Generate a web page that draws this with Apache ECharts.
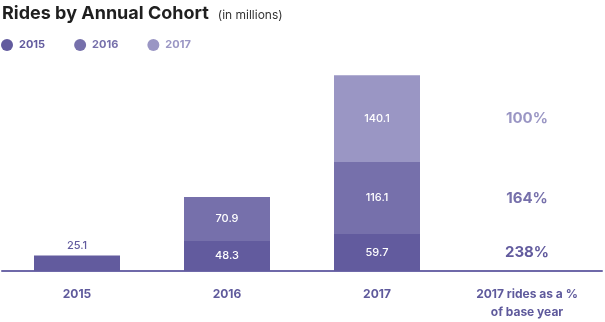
<!DOCTYPE html>
<html>
<head>
<meta charset="utf-8">
<script src="https://cdn.jsdelivr.net/npm/echarts@6/dist/echarts.min.js"></script>
<style>html,body{margin:0;padding:0;background:#fff}#c{width:605px;height:322px}</style>
</head>
<body>
<div id="c"></div>
<script>
var categories = ['2015', '2016', '2017', '2017 rides as a %\nof base year'];
var seriesNames = ['2015', '2016', '2017'];
var cohort2015 = [25.1, 48.3, 59.7];
var cohort2016 = [null, 70.9, 116.1];
var cohort2017 = [null, null, 140.1];
var pctOfBase = ['238%', '164%', '100%'];

var colors = ['#625b9e', '#7670ab', '#9a96c4'];
var cohorts = [cohort2015, cohort2016, cohort2017];
var FONT = 'Inter';

var series = cohorts.map(function (vals, i) {
  var data = vals.map(function (v, j) {
    if (v == null) return null;
    var d = { value: v };
    if (i === 0 && j === 0) {
      d.label = { position: 'top', color: colors[0], distance: 4 };
    }
    return d;
  });
  // 4th category: invisible copy of the 2017 stack, labeled with % of base year
  data.push({
    value: vals[2],
    itemStyle: { color: 'rgba(0,0,0,0)' },
    label: {
      formatter: pctOfBase[i],
      color: colors[i],
      fontSize: 15,
      fontWeight: 'bold'
    }
  });
  return {
    name: seriesNames[i],
    type: 'bar',
    stack: 'total',
    barWidth: 86,
    data: data,
    itemStyle: { color: colors[i] },
    label: {
      show: true,
      position: 'inside',
      color: '#ffffff',
      fontSize: 11,
      fontFamily: FONT,
      fontWeight: 500
    }
  };
});

var chart = echarts.init(document.getElementById('c'), null, { renderer: 'canvas' });
chart.setOption({
  animation: false,
  title: {
    left: 0,
    top: 3,
    padding: [2, 2, 2, 2],
    text: '{a|Rides by Annual Cohort} {b|(in millions)}',
    textStyle: {
      rich: {
        a: { fontSize: 18, fontWeight: 'bold', color: '#1f1f1f', fontFamily: FONT },
        b: { fontSize: 12, fontWeight: 'normal', color: '#333', fontFamily: FONT, padding: [3, 0, 0, 4] }
      }
    }
  },
  legend: {
    left: 1,
    top: 39,
    padding: 0,
    icon: 'circle',
    itemWidth: 12,
    itemHeight: 12,
    itemGap: 29,
    data: seriesNames.map(function (n, i) {
      return { name: n, textStyle: { color: colors[i] } };
    }),
    textStyle: { fontSize: 11, fontWeight: 'bold', fontFamily: FONT, padding: [0, 0, 0, 1] }
  },
  grid: { left: 2, right: 3, top: 54, bottom: 51 },
  xAxis: {
    type: 'category',
    data: categories,
    axisLine: { lineStyle: { color: '#6f69a9', width: 2 } },
    axisTick: { show: false },
    axisLabel: {
      color: '#5f5a9c',
      fontSize: 12,
      fontWeight: 'bold',
      fontFamily: FONT,
      margin: 14,
      lineHeight: 18
    }
  },
  yAxis: { type: 'value', min: 0, max: 350, show: false, splitLine: { show: false } },
  series: series
});
</script>
</body>
</html>
